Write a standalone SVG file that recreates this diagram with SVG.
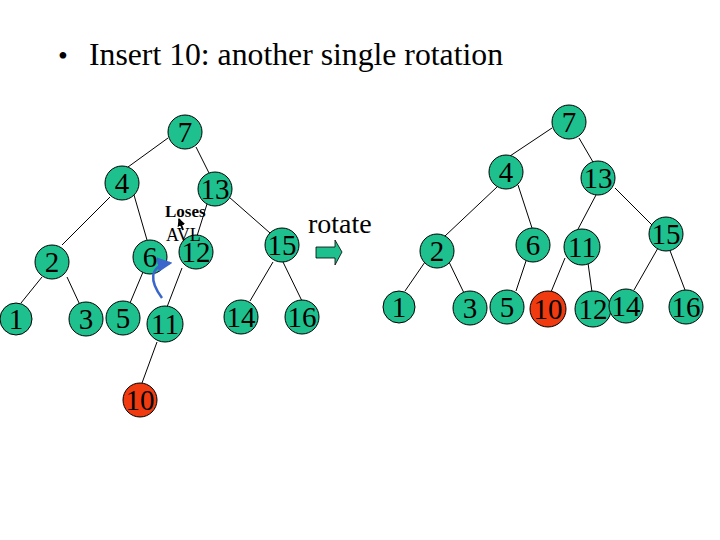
<svg xmlns="http://www.w3.org/2000/svg" width="720" height="540" viewBox="0 0 720 540">
<defs>
<style>
.n{fill:#1EC08E;stroke:#000;stroke-width:1}
.r{fill:#F03A10;stroke:#000;stroke-width:1}
.t{font-family:"Liberation Serif",serif;font-size:29px;fill:#000;text-anchor:middle}
.e{stroke:#000;stroke-width:1;fill:none}
</style>
<marker id="bh" markerWidth="6" markerHeight="6" refX="5" refY="3" orient="auto" markerUnits="strokeWidth"><path d="M0,0 L6,3 L0,6 z" fill="#3A66CC"/></marker>
<marker id="kh" markerWidth="4" markerHeight="4" refX="3.5" refY="2" orient="auto" markerUnits="strokeWidth"><path d="M0,0 L4,2 L0,4 z" fill="#000"/></marker>
</defs>
<rect width="720" height="540" fill="#fff"/>
<text x="58" y="65" style="font-family:'Liberation Serif',serif;font-size:28px">•</text>
<text x="89" y="65" textLength="414" lengthAdjust="spacingAndGlyphs" style="font-family:'Liberation Serif',serif;font-size:32px">Insert 10: another single rotation</text>

<g id="connectors">
<line class="e" x1="168" y1="138" x2="128" y2="167"/>
<line class="e" x1="196" y1="147" x2="209" y2="173"/>
<line class="e" x1="110" y1="197" x2="62" y2="245"/>
<line class="e" x1="134" y1="195" x2="147" y2="240"/>
<line class="e" x1="207" y1="204" x2="197" y2="236"/>
<line class="e" x1="229" y1="197" x2="270" y2="233"/>
<line class="e" x1="42" y1="277" x2="21" y2="303"/>
<line class="e" x1="67" y1="277" x2="80" y2="305"/>
<line class="e" x1="143" y1="272" x2="130" y2="303"/>
<line class="e" x1="182" y1="268" x2="167" y2="307"/>
<line class="e" x1="273" y1="262" x2="250" y2="301"/>
<line class="e" x1="283" y1="262" x2="302" y2="301"/>
<line class="e" x1="157" y1="342" x2="142" y2="383"/>

<line class="e" x1="552" y1="128" x2="510" y2="156"/>
<line class="e" x1="579" y1="138" x2="593" y2="162"/>
<line class="e" x1="497" y1="187" x2="445" y2="236"/>
<line class="e" x1="518" y1="185" x2="532" y2="228"/>
<line class="e" x1="596" y1="195" x2="577" y2="231"/>
<line class="e" x1="615" y1="188" x2="652" y2="225"/>
<line class="e" x1="425" y1="262" x2="405" y2="291"/>
<line class="e" x1="449" y1="262" x2="464" y2="293"/>
<line class="e" x1="527" y1="258" x2="516" y2="291"/>
<line class="e" x1="565" y1="258" x2="551" y2="292"/>
<line class="e" x1="588" y1="263" x2="592" y2="292"/>
<line class="e" x1="658" y1="248" x2="634" y2="290"/>
<line class="e" x1="669" y1="248" x2="685" y2="290"/>
</g>

<g id="L7"><circle class="n" cx="185" cy="132" r="17"/><text class="t" x="185" y="142">7</text></g>
<g id="L4"><circle class="n" cx="122" cy="183" r="17"/><text class="t" x="122" y="193">4</text></g>
<g id="L13"><circle class="n" cx="215" cy="189" r="17"/><text class="t" x="215" y="199">13</text></g>
<g id="L2"><circle class="n" cx="52" cy="262" r="17"/><text class="t" x="52" y="272">2</text></g>
<g id="L6"><circle class="n" cx="150" cy="257" r="17"/><text class="t" x="150" y="267">6</text></g>
<g id="L12"><circle class="n" cx="196" cy="252" r="17"/><text class="t" x="196" y="262">12</text></g>
<g id="L15"><circle class="n" cx="282" cy="245" r="17"/><text class="t" x="282" y="255">15</text></g>
<g id="L1"><circle class="n" cx="16" cy="319" r="16"/><text class="t" x="16" y="329">1</text></g>
<g id="L3"><circle class="n" cx="86" cy="319" r="17"/><text class="t" x="86" y="329">3</text></g>
<g id="L5"><circle class="n" cx="123" cy="318" r="17"/><text class="t" x="123" y="328">5</text></g>
<g id="L11"><circle class="n" cx="165" cy="324" r="18"/><text class="t" x="165" y="334">11</text></g>
<g id="L14"><circle class="n" cx="241" cy="317" r="17"/><text class="t" x="241" y="327">14</text></g>
<g id="L16"><circle class="n" cx="302" cy="317" r="17"/><text class="t" x="302" y="327">16</text></g>
<g id="L10"><circle class="r" cx="140" cy="400" r="17"/><text class="t" x="140" y="410">10</text></g>

<g id="R7"><circle class="n" cx="569" cy="122" r="17"/><text class="t" x="569" y="132">7</text></g>
<g id="R4"><circle class="n" cx="506" cy="172" r="17"/><text class="t" x="506" y="182">4</text></g>
<g id="R13"><circle class="n" cx="598" cy="178" r="17"/><text class="t" x="598" y="188">13</text></g>
<g id="R2"><circle class="n" cx="437" cy="251" r="17"/><text class="t" x="437" y="261">2</text></g>
<g id="R6"><circle class="n" cx="533" cy="245" r="17"/><text class="t" x="533" y="255">6</text></g>
<g id="R11"><circle class="n" cx="582" cy="247" r="18"/><text class="t" x="582" y="257">11</text></g>
<g id="R15"><circle class="n" cx="666" cy="234" r="17"/><text class="t" x="666" y="244">15</text></g>
<g id="R1"><circle class="n" cx="399" cy="307" r="16"/><text class="t" x="399" y="317">1</text></g>
<g id="R3"><circle class="n" cx="470" cy="308" r="17"/><text class="t" x="470" y="318">3</text></g>
<g id="R5"><circle class="n" cx="507" cy="307" r="17"/><text class="t" x="507" y="317">5</text></g>
<g id="R10"><circle class="r" cx="548" cy="309" r="18"/><text class="t" x="548" y="319">10</text></g>
<g id="R12"><circle class="n" cx="593" cy="309" r="18"/><text class="t" x="593" y="319">12</text></g>
<g id="R14"><circle class="n" cx="626" cy="306" r="17"/><text class="t" x="626" y="316">14</text></g>
<g id="R16"><circle class="n" cx="686" cy="307" r="17"/><text class="t" x="686" y="317">16</text></g>

<g id="annotations">
<text x="165" y="217" style="font-family:'Liberation Serif',serif;font-size:17px;font-weight:bold">Loses</text>
<text x="166" y="241" style="font-family:'Liberation Serif',serif;font-size:18px">AVL</text>
<line x1="183" y1="230" x2="179" y2="219" stroke="#000" stroke-width="2" marker-end="url(#kh)"/>
<path d="M162,298 C150,282 148,266 170,263" fill="none" stroke="#3A66CC" stroke-width="2.5" marker-end="url(#bh)"/>
<text x="308" y="233" style="font-family:'Liberation Serif',serif;font-size:28px">rotate</text>
<path d="M316,247 L335,247 L335,240 L342,252 L335,265 L335,258 L316,258 Z" fill="#1EC08E" stroke="#000" stroke-width="0.8"/>
</g>
</svg>
